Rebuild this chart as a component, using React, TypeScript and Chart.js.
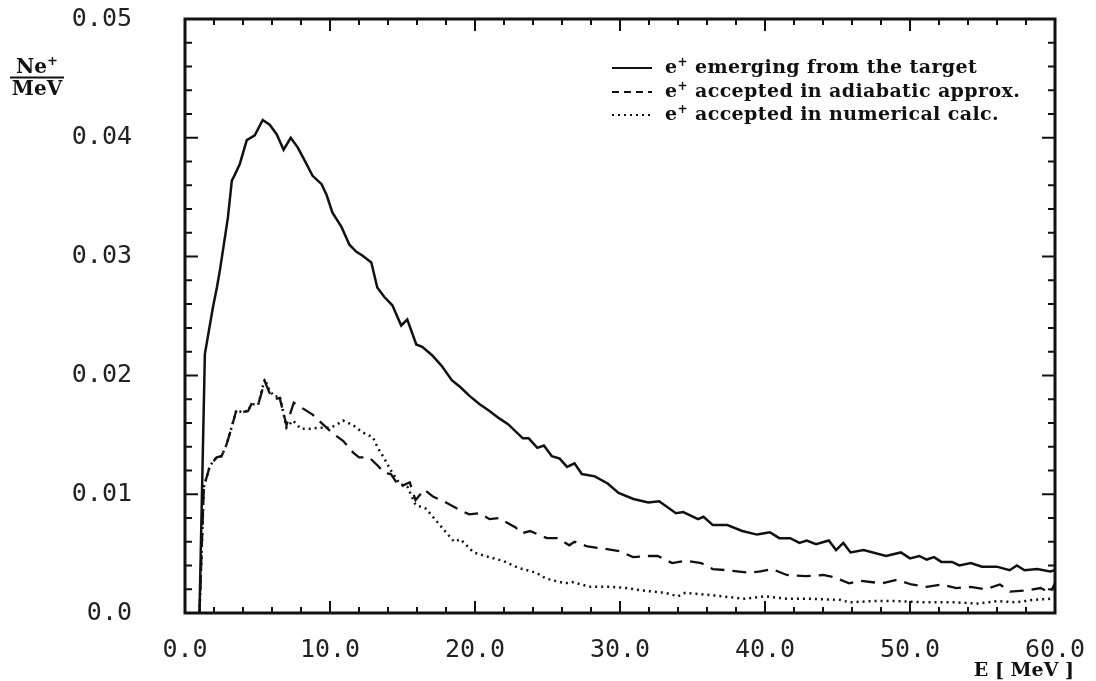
import React, { useEffect, useRef } from "react";
import { Chart, registerables } from "chart.js";

Chart.register(...registerables);

// ---- Data (E in MeV, N per MeV) ----
const solidPoints: number[][] = [
  [1.0, 0], [1.37, 0.0218], [1.92, 0.0257], [2.2, 0.0274], [2.4, 0.0288], [2.75, 0.0316],
  [2.96, 0.0333], [3.23, 0.0364], [3.44, 0.0369], [3.78, 0.0378], [4.26, 0.0398], [4.81, 0.0402],
  [5.36, 0.0415], [5.84, 0.0411], [6.32, 0.0403], [6.8, 0.039], [7.29, 0.04], [7.77, 0.0392],
  [8.25, 0.0381], [8.8, 0.0368], [9.42, 0.0361], [9.76, 0.0352], [10.17, 0.0337], [10.79, 0.0325],
  [11.34, 0.031], [11.82, 0.0304], [12.23, 0.0301], [12.85, 0.0295], [13.26, 0.0274], [13.75, 0.0266],
  [14.3, 0.0259], [14.91, 0.0242], [15.33, 0.0247], [15.95, 0.0226], [16.36, 0.0224], [17.04, 0.0217],
  [17.7, 0.0208], [18.4, 0.0196], [19.0, 0.019], [19.6, 0.0183], [20.3, 0.0176], [21.0, 0.017],
  [21.65, 0.0164], [22.28, 0.0159], [23.3, 0.0147], [23.7, 0.0147], [24.3, 0.0139], [24.75, 0.0141],
  [25.3, 0.0132], [25.84, 0.013], [26.35, 0.0123], [26.86, 0.0126], [27.37, 0.0117], [28.26, 0.0115],
  [29.15, 0.0109], [29.9, 0.0101], [30.93, 0.0096], [31.95, 0.0093], [32.7, 0.0094], [33.86, 0.0084],
  [34.36, 0.0085], [35.38, 0.0079], [35.76, 0.0081], [36.4, 0.0074], [37.4, 0.0074], [38.43, 0.0069],
  [39.45, 0.0066], [40.34, 0.0068], [40.98, 0.0063], [41.74, 0.0063], [42.37, 0.0059], [42.88, 0.0061],
  [43.52, 0.0058], [44.4, 0.0061], [44.9, 0.0053], [45.4, 0.0059], [45.9, 0.0051], [46.8, 0.0053],
  [48.35, 0.0048], [49.37, 0.0051], [50.0, 0.0046], [50.64, 0.0048], [51.15, 0.0045], [51.66, 0.0047],
  [52.16, 0.0043], [52.9, 0.0043], [53.4, 0.004], [54.2, 0.0042], [54.96, 0.0039], [55.98, 0.0039],
  [56.87, 0.0036], [57.37, 0.004], [57.9, 0.0036], [58.77, 0.0037], [59.66, 0.0035], [60.0, 0.0036],
];

const dashedPoints: number[][] = [
  [1.0, 0], [1.3, 0.0106], [1.72, 0.0124], [2.18, 0.0131], [2.52, 0.0132], [2.87, 0.0142],
  [3.21, 0.0156], [3.55, 0.0171], [3.9, 0.0169], [4.35, 0.017], [4.58, 0.0176], [5.04, 0.0175],
  [5.5, 0.0195], [5.84, 0.0185], [6.19, 0.018], [6.53, 0.0181], [7.0, 0.0158], [7.5, 0.0177],
  [8.02, 0.0173], [8.8, 0.0167], [9.5, 0.0159], [10.2, 0.0151], [10.9, 0.0145], [11.6, 0.0135],
  [12.0, 0.0131], [12.7, 0.0131], [13.3, 0.0124], [13.75, 0.0118], [14.2, 0.0117], [14.8, 0.0106],
  [15.5, 0.011], [15.9, 0.0095], [16.5, 0.0104], [17.1, 0.0098], [18.0, 0.0093], [18.9, 0.0087],
  [19.6, 0.0083], [20.3, 0.0084], [21.0, 0.0079], [21.65, 0.008], [22.8, 0.0072], [23.2, 0.0067],
  [23.8, 0.0069], [24.96, 0.0063], [25.7, 0.0063], [26.5, 0.0057], [26.86, 0.006], [27.75, 0.0056],
  [29.0, 0.0054], [30.0, 0.0052], [30.9, 0.0047], [31.8, 0.0048], [32.6, 0.0048], [33.6, 0.0042],
  [34.6, 0.0044], [35.6, 0.0042], [36.4, 0.0037], [37.4, 0.0036], [38.9, 0.0034], [39.7, 0.0035],
  [40.5, 0.0037], [41.5, 0.0032], [42.8, 0.0031], [44.0, 0.0032], [44.8, 0.003], [45.8, 0.0025],
  [46.6, 0.0027], [48.1, 0.0025], [49.1, 0.0028], [50.1, 0.0024], [51.15, 0.0022], [52.2, 0.0024],
  [53.2, 0.0021], [54.2, 0.0022], [55.2, 0.002], [56.2, 0.0024], [56.9, 0.0018], [58.0, 0.0019],
  [59.0, 0.0021], [59.66, 0.0017], [60.0, 0.0025],
];

const dottedPoints: number[][] = [
  [1.0, 0], [1.3, 0.0106], [1.72, 0.0124], [2.18, 0.0131], [2.52, 0.0132], [2.87, 0.0142],
  [3.21, 0.0156], [3.55, 0.0171], [3.9, 0.0169], [4.35, 0.017], [4.58, 0.0176], [5.04, 0.0175],
  [5.5, 0.0197], [5.84, 0.0187], [6.19, 0.0182], [6.53, 0.0183], [7.0, 0.0156], [7.44, 0.0162],
  [8.0, 0.0155], [8.6, 0.0155], [9.3, 0.0156], [9.97, 0.0156], [10.4, 0.0158], [10.9, 0.0162],
  [11.6, 0.0158], [12.25, 0.0152], [12.95, 0.0148], [13.3, 0.0139], [13.75, 0.013], [14.2, 0.012],
  [14.8, 0.0109], [15.35, 0.0106], [15.9, 0.0091], [16.6, 0.0088], [17.3, 0.0078], [18.0, 0.0068],
  [18.56, 0.006], [19.0, 0.0062], [19.9, 0.0051], [21.0, 0.0047], [21.9, 0.0044], [23.0, 0.0038],
  [24.2, 0.0034], [24.9, 0.0029], [26.2, 0.0025], [26.7, 0.0026], [28.0, 0.0022], [29.4, 0.0022],
  [30.5, 0.0021], [31.5, 0.0019], [33.1, 0.0017], [34.0, 0.0014], [34.5, 0.0017], [36.3, 0.0015],
  [38.6, 0.0012], [40.0, 0.0014], [41.5, 0.0012], [43.2, 0.0012], [45.2, 0.0011], [45.8, 0.0009],
  [47.5, 0.001], [49.1, 0.001], [51.0, 0.0009], [53.0, 0.0009], [54.7, 0.0008], [56.0, 0.001],
  [57.3, 0.0009], [58.5, 0.0011], [59.7, 0.0012],
];

const xTickLabels = ["0.0", "10.0", "20.0", "30.0", "40.0", "50.0", "60.0"];
const yTickLabels = ["0.0", "0.01", "0.02", "0.03", "0.04", "0.05"];
const legendLabels = [
  "emerging from the target",
  "accepted in adiabatic approx.",
  "accepted in numerical calc.",
];
const xTitle = "E [ MeV ]";
const yTitleTop = "Ne";
const yTitleBottom = "MeV";

const INK = "#111";
const SERIF = "'DejaVu Serif', serif";
const MONO = "'DejaVu Sans Mono', monospace";

const framePlugin = {
  id: "frame",
  afterDatasetsDraw(chart: any) {
    const { ctx, chartArea: a, scales } = chart;
    const xs = scales.x;
    const ys = scales.y;
    ctx.save();
    ctx.strokeStyle = INK;
    ctx.lineWidth = 3;
    ctx.strokeRect(a.left, a.top, a.right - a.left, a.bottom - a.top);
    ctx.lineWidth = 2;
    for (let v = 2; v < 60; v += 2) {
      const px = xs.getPixelForValue(v);
      const len = v % 10 === 0 ? 12 : 6;
      ctx.beginPath();
      ctx.moveTo(px, a.bottom);
      ctx.lineTo(px, a.bottom - len);
      ctx.moveTo(px, a.top);
      ctx.lineTo(px, a.top + len);
      ctx.stroke();
    }
    for (let i = 1; i < 25; i++) {
      const v = i * 0.002;
      const py = ys.getPixelForValue(v);
      const len = i % 5 === 0 ? 13 : 7;
      ctx.beginPath();
      ctx.moveTo(a.left, py);
      ctx.lineTo(a.left + len, py);
      ctx.moveTo(a.right, py);
      ctx.lineTo(a.right - len, py);
      ctx.stroke();
    }
    ctx.restore();
  },
  afterDraw(chart: any) {
    const { ctx } = chart;
    ctx.save();
    ctx.fillStyle = INK;
    ctx.strokeStyle = INK;
    const rows = [73, 97, 120];
    const dashes = [[], [7, 5], [2, 4]];
    rows.forEach((base, i) => {
      ctx.lineWidth = 2;
      ctx.setLineDash(dashes[i]);
      ctx.beginPath();
      ctx.moveTo(612, base - 5);
      ctx.lineTo(652, base - 5);
      ctx.stroke();
      ctx.setLineDash([]);
      (ctx as any).letterSpacing = "0.4px";
      ctx.font = `bold 19px ${SERIF}`;
      ctx.textBaseline = "alphabetic";
      ctx.textAlign = "left";
      ctx.fillText("e", 665, base);
      const ew = ctx.measureText("e").width;
      ctx.font = `bold 12px ${SERIF}`;
      ctx.fillText("+", 665 + ew, base - 7);
      const pw = ctx.measureText("+").width;
      ctx.font = `bold 19px ${SERIF}`;
      ctx.fillText(" " + legendLabels[i], 665 + ew + pw, base);
      (ctx as any).letterSpacing = "0px";
    });
    ctx.font = `bold 20px ${SERIF}`;
    ctx.textAlign = "left";
    const nw = ctx.measureText(yTitleTop).width;
    ctx.font = `bold 13px ${SERIF}`;
    const plw = ctx.measureText("+").width;
    const topStart = 37 - (nw + plw) / 2;
    ctx.font = `bold 20px ${SERIF}`;
    ctx.fillText(yTitleTop, topStart, 73);
    ctx.font = `bold 13px ${SERIF}`;
    ctx.fillText("+", topStart + nw, 65);
    ctx.lineWidth = 2;
    ctx.beginPath();
    ctx.moveTo(10, 77.5);
    ctx.lineTo(64, 77.5);
    ctx.stroke();
    ctx.font = `bold 20px ${SERIF}`;
    ctx.textAlign = "center";
    ctx.fillText(yTitleBottom, 37, 95);
    ctx.textAlign = "right";
    ctx.font = `bold 19px ${SERIF}`;
    ctx.fillText(xTitle, 1074, 676);
    ctx.restore();
  },
};

export default function App() {
  const ref = useRef<HTMLCanvasElement | null>(null);

  useEffect(() => {
    document.body.style.margin = "0";
    const canvas = ref.current;
    if (!canvas) return;
    const mk = (pts: number[][]) => pts.map(([x, y]) => ({ x, y }));
    const chart = new Chart(canvas, {
      type: "line",
      data: {
        datasets: [
          { data: mk(solidPoints), borderColor: INK, borderWidth: 2.5, pointRadius: 0, tension: 0 },
          {
            data: mk(dashedPoints),
            borderColor: INK,
            borderWidth: 2.3,
            borderDash: [14, 8],
            pointRadius: 0,
            tension: 0,
          },
          {
            data: mk(dottedPoints),
            borderColor: INK,
            borderWidth: 2.5,
            borderDash: [2, 4],
            pointRadius: 0,
            tension: 0,
          },
        ],
      },
      options: {
        animation: false,
        responsive: false,
        devicePixelRatio: 1,
        layout: { autoPadding: false, padding: { top: 19, right: 41, left: 0, bottom: 0 } },
        plugins: { legend: { display: false }, tooltip: { enabled: false } },
        scales: {
          x: {
            type: "linear",
            min: 0,
            max: 60,
            grid: { display: false, drawTicks: false },
            border: { display: false },
            ticks: {
              stepSize: 10,
              padding: 22,
              color: "#222",
              font: { family: MONO, size: 25 },
              maxRotation: 0,
              callback: (v: any) => xTickLabels[Math.round(Number(v) / 10)],
            },
            afterFit: (s: any) => {
              s.height = 68;
              s.paddingLeft = 0;
              s.paddingRight = 0;
            },
          },
          y: {
            type: "linear",
            min: 0,
            max: 0.05,
            grid: { display: false, drawTicks: false },
            border: { display: false },
            ticks: {
              stepSize: 0.01,
              padding: 53,
              color: "#222",
              font: { family: MONO, size: 25 },
              callback: (v: any) => yTickLabels[Math.round(Number(v) / 0.01)],
            },
            afterFit: (s: any) => {
              s.width = 185;
              s.paddingTop = 0;
              s.paddingBottom = 0;
            },
          },
        },
      },
      plugins: [framePlugin],
    });
    return () => chart.destroy();
  }, []);

  return (
    <div style={{ position: "fixed", left: 0, top: 0, width: 1096, height: 681, background: "#fff" }}>
      <canvas ref={ref} width={1096} height={681} />
    </div>
  );
}
